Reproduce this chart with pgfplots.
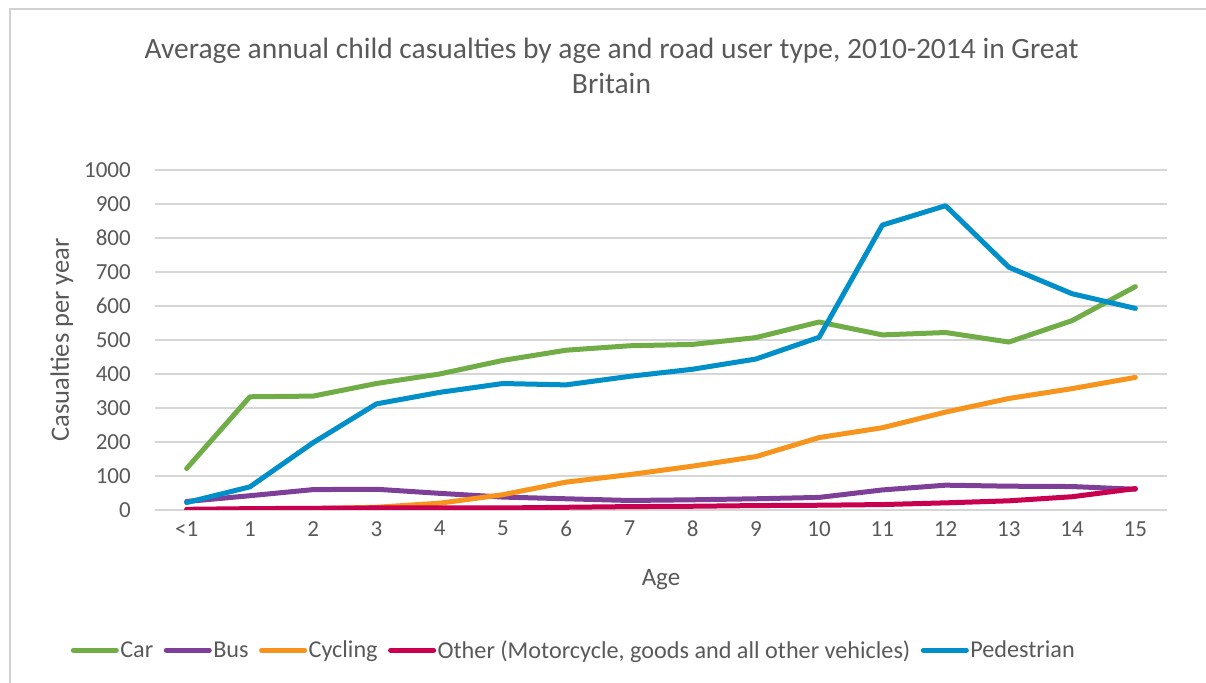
\documentclass[border=0pt]{standalone}
\usepackage{pgfplots}
\pgfplotsset{compat=1.18}
\usepackage{pgfplotstable}
\usepackage{fontspec}
\setmainfont{Carlito}
\definecolor{txt}{HTML}{595959}
\definecolor{cCar}{HTML}{70AD47}
\definecolor{cBus}{HTML}{7E3F98}
\definecolor{cCyc}{HTML}{F7941D}
\definecolor{cOth}{HTML}{C8004F}
\definecolor{cPed}{HTML}{008FC8}
\pgfplotstableread{
x car bus cyc oth ped
0 122 25 0 2 22
1 333 42 2 4 68
2 335 60 4 5 198
3 372 61 8 6 312
4 400 49 20 6 346
5 440 38 45 6 372
6 470 33 82 8 368
7 483 28 104 10 393
8 487 30 129 11 414
9 507 33 157 13 444
10 553 37 213 14 508
11 515 59 242 16 838
12 522 73 288 21 895
13 494 70 328 27 714
14 557 69 357 39 636
15 657 61 390 63 593
}\data
\begin{document}
\begin{tikzpicture}
\path[use as bounding box] (0,0) rectangle (1206bp,683bp);
\draw[black!18, line width=1.5bp] (10bp,0) -- (10bp,674bp) -- (1206bp,674bp);
\node[txt, font=\fontsize{29.5bp}{35bp}\selectfont, align=center] at (611.5bp,617bp) {Average annual child casualties by age and road user type, 2010-2014 in Great\\Britain};
\begin{axis}[
  at={(155bp,173bp)}, anchor=south west,
  scale only axis, width=1012bp, height=340bp,
  xmin=-0.5, xmax=15.5, ymin=0, ymax=1000,
  xtick={0,...,15},
  xticklabels={<1,1,2,3,4,5,6,7,8,9,10,11,12,13,14,15},
  ytick={0,100,...,1000},
  /pgf/number format/assume math mode=true,
  /pgf/number format/1000 sep={},
  axis line style={draw=none}, tick style={draw=none},
  ymajorgrids, grid style={black!16, line width=1.5bp},
  tick label style={txt, font=\fontsize{23bp}{27bp}\selectfont},
  yticklabel style={inner sep=0pt, anchor=east, xshift=-24bp},
  xticklabel style={inner sep=0pt, anchor=north, yshift=-11bp},
  xlabel={Age}, ylabel={Casualties per year},
  label style={txt, font=\fontsize{25bp}{30bp}\selectfont},
  xlabel style={at={(axis description cs:0.5,-0.206)}, anchor=center},
  ylabel style={at={(axis description cs:-0.092,0.5)}, anchor=center, rotate=0, font=\fontsize{26.5bp}{30bp}\selectfont},
  legend columns=5,
  legend style={at={(axis description cs:0.4136,-0.412)}, anchor=center, draw=none, fill=none,
    font=\fontsize{24.2bp}{28bp}\selectfont, text=txt, inner sep=0pt,
    nodes={inner sep=1.5bp},
    /tikz/every even column/.append style={column sep=9bp},
    /tikz/every odd column/.append style={column sep=0bp}},
  legend cell align=left,
  legend image code/.code={\draw[#1, line width=5bp, line cap=round] (0bp,0bp) -- (43bp,0bp);},
  every axis plot/.append style={line width=5bp, line join=round, line cap=round},
]
\addplot[cCar] table[x=x,y=car] {\data};
\addlegendentry{Car}
\addplot[cBus] table[x=x,y=bus] {\data};
\addlegendentry{Bus}
\addplot[cCyc] table[x=x,y=cyc] {\data};
\addlegendentry{Cycling}
\addplot[cOth] table[x=x,y=oth] {\data};
\addlegendentry{Other (Motorcycle, goods and all other vehicles)}
\addplot[cPed] table[x=x,y=ped] {\data};
\addlegendentry{Pedestrian}
\end{axis}
\end{tikzpicture}
\end{document}
